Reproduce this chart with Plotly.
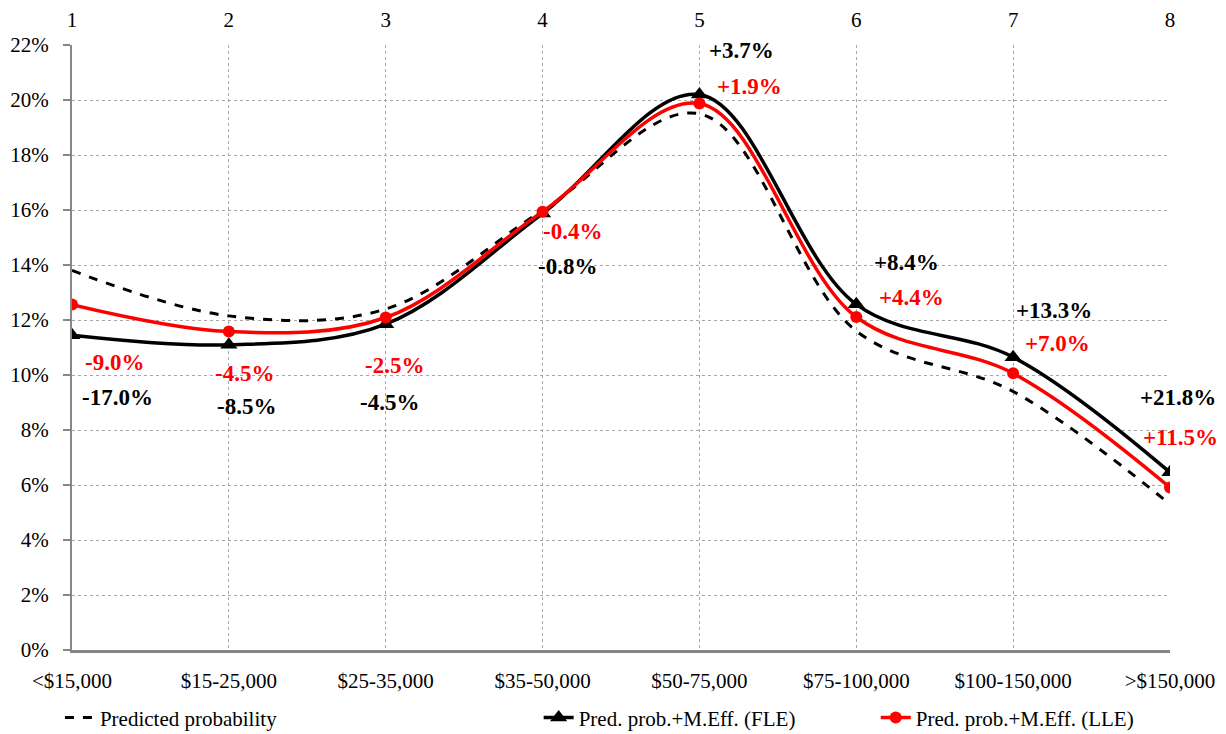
import plotly.graph_objects as go

categories = ["<$15,000", "$15-25,000", "$25-35,000", "$35-50,000",
              "$50-75,000", "$75-100,000", "$100-150,000", ">$150,000"]
top_labels = ["1", "2", "3", "4", "5", "6", "7", "8"]

pred = [13.8, 12.15, 12.4, 15.98, 19.5, 11.6, 9.4, 5.3]
fle = [11.45, 11.1, 11.85, 15.87, 20.2, 12.57, 10.65, 6.46]
lle = [12.56, 11.58, 12.09, 15.94, 19.87, 12.11, 10.06, 5.91]

fle_labels = ["-17.0%", "-8.5%", "-4.5%", "-0.8%", "+3.7%", "+8.4%", "+13.3%", "+21.8%"]
lle_labels = ["-9.0%", "-4.5%", "-2.5%", "-0.4%", "+1.9%", "+4.4%", "+7.0%", "+11.5%"]

y_ticks = [0, 2, 4, 6, 8, 10, 12, 14, 16, 18, 20, 22]

# label pixel offsets (style): (dx right, dy down)
fle_off = [(45, 62), (18, 62), (4, 78), (25, 53), (42, -44), (50, -42), (41, -47), (8, -75)]
lle_off = [(42, 58), (16, 42), (9, 48), (30, 20), (50, -17), (55, -19), (44, -30), (10, -50)]

FONT = "Times New Roman, Liberation Serif, serif"
xs = list(range(len(categories)))

fig = go.Figure()
fig.add_trace(go.Scatter(
    x=xs, y=pred, mode="lines", name="Predicted probability",
    line=dict(color="black", width=3, dash="dash", shape="spline", smoothing=1),
    legend="legend"))
fig.add_trace(go.Scatter(
    x=xs, y=fle, mode="lines+markers", name="Pred. prob.+M.Eff. (FLE)",
    line=dict(color="black", width=3.5, shape="spline", smoothing=1),
    marker=dict(symbol="triangle-up", size=15, color="black"),
    legend="legend2"))
fig.add_trace(go.Scatter(
    x=xs, y=lle, mode="lines+markers", name="Pred. prob.+M.Eff. (LLE)",
    line=dict(color="#ff0000", width=3.5, shape="spline", smoothing=1),
    marker=dict(symbol="circle", size=12, color="#ff0000"),
    legend="legend3"))
# invisible trace to activate top axis
fig.add_trace(go.Scatter(x=xs, y=pred, xaxis="x2", mode="none",
                         showlegend=False, hoverinfo="skip"))

for i in xs:
    fig.add_annotation(x=i, y=fle[i], text="<b>%s</b>" % fle_labels[i], showarrow=False,
                       xshift=fle_off[i][0], yshift=-fle_off[i][1],
                       font=dict(family=FONT, size=23, color="black"))
    fig.add_annotation(x=i, y=lle[i], text="<b>%s</b>" % lle_labels[i], showarrow=False,
                       xshift=lle_off[i][0], yshift=-lle_off[i][1],
                       font=dict(family=FONT, size=23, color="#ff0000"))

grid = dict(showgrid=True, gridcolor="#a6a6a6", gridwidth=1, griddash="dot")

fig.update_layout(
    width=1218, height=726,
    margin=dict(l=64, r=56, t=37, b=84, autoexpand=False),
    plot_bgcolor="white", paper_bgcolor="white",
    font=dict(family=FONT, size=21, color="black"),
    xaxis=dict(range=[0, 7], tickvals=xs, ticktext=categories, **grid,
               showline=True, linecolor="#868686", linewidth=3,
               ticks="", ticklabelstandoff=10, zeroline=False),
    xaxis2=dict(range=[0, 7], tickvals=xs, ticktext=top_labels, overlaying="x",
                side="top", showgrid=False, showline=False, ticks="",
                ticklabelstandoff=13, zeroline=False),
    yaxis=dict(range=[0, 22], tickvals=y_ticks, ticktext=["%d%%" % v for v in y_ticks],
               **grid, showline=True, linecolor="#868686", linewidth=2,
               ticks="outside", ticklen=7, tickcolor="#868686", tickwidth=2,
               ticklabelstandoff=10, zeroline=False),
    legend=dict(x=-0.011, y=-0.112, xanchor="left", yanchor="middle",
                orientation="h", bgcolor="rgba(0,0,0,0)", font=dict(size=21)),
    legend2=dict(x=0.425, y=-0.112, xanchor="left", yanchor="middle",
                 orientation="h", bgcolor="rgba(0,0,0,0)", font=dict(size=21)),
    legend3=dict(x=0.732, y=-0.112, xanchor="left", yanchor="middle",
                 orientation="h", bgcolor="rgba(0,0,0,0)", font=dict(size=21)),
)

fig.write_html("out.html")
